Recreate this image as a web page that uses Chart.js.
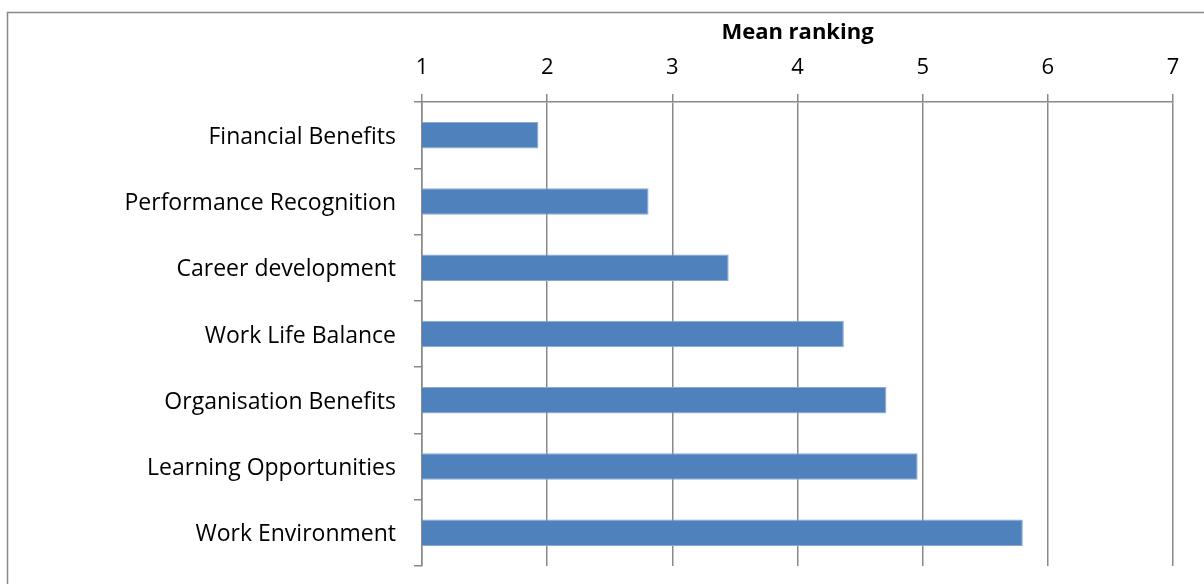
<!DOCTYPE html>
<html>
<head>
<meta charset="utf-8">
<script src="https://cdn.jsdelivr.net/npm/chart.js@4/dist/chart.umd.min.js"></script>
<style>
  html, body { margin: 0; padding: 0; background: #fff; }
  canvas { display: block; }
</style>
</head>
<body>
<canvas id="canvas" width="1204" height="584"></canvas>
<script>
var categories = [
    "Financial Benefits",
    "Performance Recognition",
    "Career development",
    "Work Life Balance",
    "Organisation Benefits",
    "Learning Opportunities",
    "Work Environment"
];
var meanRanking = [1.93, 2.81, 3.45, 4.37, 4.71, 4.96, 5.80];
var axisTitle = "Mean ranking";
var axisMin = 1;
var axisMax = 7;

var lineGrey = "#898989";
var fontFamily = "'Open Sans', Lato, sans-serif";

// outer frame of the chart box (left and top edges only fit in the window)
var framePlugin = {
    id: "frame",
    beforeDraw: function (chart) {
        var ctx = chart.ctx;
        ctx.save();
        ctx.strokeStyle = lineGrey;
        ctx.lineWidth = 1.5;
        ctx.beginPath();
        ctx.moveTo(7.5, 700);
        ctx.lineTo(7.5, 12.5);
        ctx.lineTo(1400, 12.5);
        ctx.stroke();
        ctx.restore();
    }
};

var config = {
    type: "bar",
    data: {
        labels: categories,
        datasets: [
            {
                label: axisTitle,
                data: meanRanking,
                backgroundColor: "#4F81BD",
                borderColor: "#8AA8D2",
                borderWidth: 1,
                borderSkipped: false,
                barPercentage: 0.4,
                categoryPercentage: 1
            }
        ]
    },
    options: {
        indexAxis: "y",
        responsive: false,
        animation: false,
        layout: {
            padding: { left: 0, top: 0, right: 31, bottom: 18 }
        },
        plugins: {
            legend: { display: false },
            tooltip: { enabled: false }
        },
        scales: {
            x: {
                position: "top",
                min: axisMin,
                max: axisMax,
                ticks: {
                    stepSize: 1,
                    color: "#000",
                    padding: 13,
                    font: { family: fontFamily, size: 22 }
                },
                grid: {
                    color: lineGrey,
                    lineWidth: 1.5,
                    tickLength: 8
                },
                border: { color: lineGrey, width: 1.5 },
                title: {
                    display: true,
                    text: axisTitle,
                    color: "#000",
                    padding: { top: 20, bottom: 0 },
                    font: { family: fontFamily, size: 22, weight: "bold" }
                },
                afterFit: function (scale) {
                    scale.height = 102;
                }
            },
            y: {
                ticks: {
                    color: "#000",
                    padding: 18,
                    labelOffset: 2,
                    font: { family: fontFamily, size: 23 }
                },
                grid: {
                    offset: true,
                    drawOnChartArea: false,
                    color: lineGrey,
                    lineWidth: 1.5,
                    tickLength: 8
                },
                border: { color: lineGrey, width: 1.5 },
                afterFit: function (scale) {
                    scale.width = 422;
                    // no extra room for half-labels at the ends
                    scale.paddingTop = 0;
                    scale.paddingBottom = 0;
                }
            }
        }
    },
    plugins: [framePlugin]
};

window.onload = function () {
    var ctx = document.getElementById("canvas").getContext("2d");
    window.myBar = new Chart(ctx, config);
};
</script>
</body>
</html>
